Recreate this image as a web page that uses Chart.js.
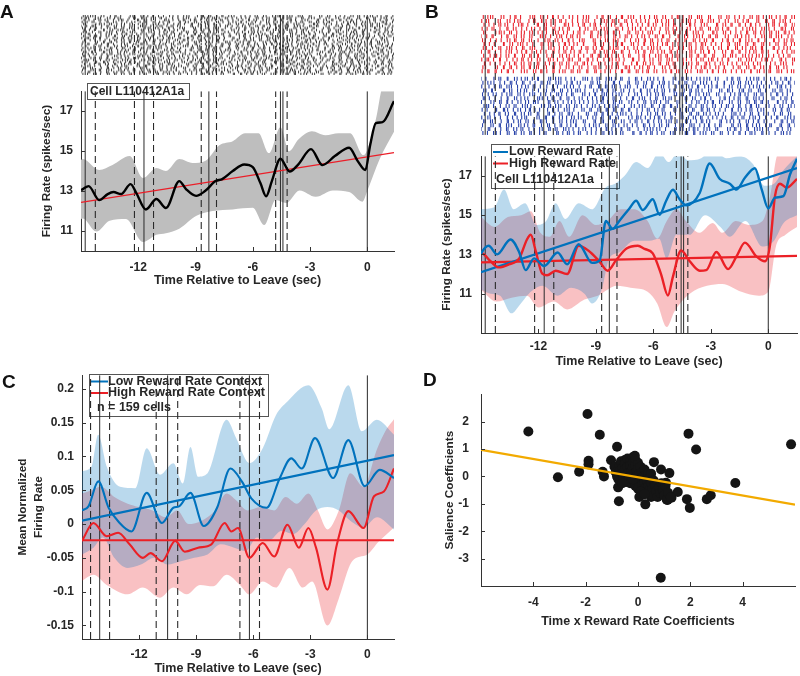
<!DOCTYPE html>
<html>
<head>
<meta charset="utf-8">
<title>Firing rate and reward rate figure</title>
<script src="https://cdn.jsdelivr.net/npm/chart.js@4.4.1/dist/chart.umd.min.js"></script>
<style>
  html, body { margin: 0; background: #fff; }
  #fig { position: relative; width: 800px; height: 676px; overflow: hidden; }
  #fig canvas { position: absolute; }
  .panel { position: absolute; font: bold 19px "Liberation Sans", Arial, sans-serif; line-height: 1; color: #111; }
</style>
</head>
<body>
<div id="fig">
  <canvas id="rasterA" width="400" height="70" style="left:0;top:10px"></canvas>
  <canvas id="plotA" width="400" height="224" style="left:0;top:76px"></canvas>
  <canvas id="rasterB" width="400" height="130" style="left:400px;top:10px"></canvas>
  <canvas id="plotB" width="400" height="232" style="left:400px;top:140px"></canvas>
  <canvas id="plotC" width="400" height="316" style="left:0;top:360px"></canvas>
  <canvas id="plotD" width="400" height="265" style="left:400px;top:375px"></canvas>
  <div class="panel" style="left:0;top:2px">A</div>
  <div class="panel" style="left:425px;top:2px">B</div>
  <div class="panel" style="left:2px;top:372px">C</div>
  <div class="panel" style="left:423px;top:370px">D</div>
</div>
<script>
// ---- data ----
const timeTicks = [-12, -9, -6, -3, 0];

// task events for the single cell (A, B) and for the population (C)
const cellSolid = [-14.78, -11.7, -8.3, -4.55, -4.42, 0];
const cellDashed = [-14.25, -12.2, -11.2, -8.7, -7.9, -4.8, -4.2];
const popSolid = [-14.07, -10.5, -6.2, 0];
const popDashed = [-14.55, -13.55, -11.1, -9.97, -6.7, -5.67];

// raster: one string per trial, one char per 0.2 s bin from -15 s ('.' = no spike, digit = offset in bin)
const highTrials = [
  '381704925.64 184703926517 240819356.04 927183560528 691407329615 804738.15390 624718305627 4913',
  '52.839160473 706152938.41 385.17209646 1930475826.7 4682.0135971 27590.361848 053917264.85 2076',
  '9147.0358263 61829.047351 738201946.58 04.691735282 8350.2647193 15968.027436 74.013852961 5830',
  '2603918.4571 4385.7201693 0719246.3855 36.815904273 9527.1036848 602491.73851 28735.60194 48172',
  '7.4512638094 8291.3607452 56.093817246 1482.5603973 60351.948271 93.726108543 41069.357282 6095',
  '1938.2640578 0467.1925836 5829.7034161 93.074816255 2716.0943858 04.539281667 3815.9024736 1284',
  '64.07285139 3951.0842676 82.461537098 5076.2139843 1.649027358 36.152809476 94270.81365 39571',
  '8025.9163740 16.837405922 4390.7152689 92.513806347 6048.1725930 57.293840616 0839.5172648 2605',
  '415.03968272 73.086152491 2961.5047383 08.374926155 94.216083573 81.57039264 2806.913745 04829',
  '0592.4817363 84.610397256 130.82756494 5946.1302837 06.81539742 9371.208456 4.185936207 76193',
  '72.9831504 6485.0129637 7.350192846 2804.6173595 19.7460382 8514.92073 6.03817254 9462710 38',
  '3694.08152 7.03158294 6582.9041736 41.5027869 0387.16254 9.20461837 3571.0896 42857.193 0614',
  '8.1472305 9603.8172 45.93016827 7149.3260 58.24913076 3605.81297 4.92637081 58023.6714 92851',
  '240.51968 73.6829014 5713.04862 9.7415028 368.02194573 6.9150382 7416.20859 93.5082716 40371',
  '6851.3079 24.961735 8036.21497 3.58140692 7419.0362 85.2601739 4083.51627 9.17350284 6692741'
];
const lowTrials = [
  '57.301948263 820461.93572 4619.0283755 73.928146035 1850.7392641 6294.0381572 0817.3954268 31946',
  '0938.2716450 69.418250731 2785.0369144 8061.3975220 5.934178206 4172.8560393 96305.81274 72418',
  '4.6281730954 3719.5048266 90.356218473 2648.0713595 83.162940578 0571.9362814 42893.60715 86320',
  '7150.3926848 48.602917356 3094.7182561 96.250381474 7405.8216933 1.826549073 68041.29357 20591',
  '2846.1903575 0.739281645 8563.0427190 41.879302566 0392.6158471 79.043825616 5128.370964 38472',
  '9.3570428164 5182.6047393 06.729481358 7315.0286947 48.160937252 2647.9501383 9035.172846 15208',
  '36.819205747 7024.5813962 4.5160739282 9381.0472656 1.724856093 5038.2916477 2763.849150 69314',
  '8503.1647296 21.978364052 6249.3015873 07.536418299 3816.0725944 96.250371681 4097.26385 52781',
  '1.6493802757 5830.7142698 79.024561383 4096.2837512 62.519047386 8174.3062959 3605.91427 04826',
  '6027.3918455 3.941572806 1586.0349247 27.381640593 9540.2716388 04.892356171 7312.50894 68153',
  '49.205861733 8617.0394258 2.735918406 5308.4127696 71.846290535 3095.1678242 8461.27035 97240',
  '7380.9251644 06.152739488 9413.6580273 85.029174636 2670.4935118 5.738219604 0948.73615 36092',
  '2.1593840677 4726.3801955 38.460927151 6952.1738044 04.371659288 7819.3052466 5238.96014 81537',
  '5864.0271393 9.283517406 7031.9462858 14.607385929 8245.0617375 36.190847263 1679.45038 25814',
  '03.472918566 2591.8364037 6.840251973 3719.6028545 90.528143766 4163.7925088 7504.12893 49267'
];

// A: all trials
const aMeanT = [-15, -14.9, -14.6, -14.05, -13.6, -13.3, -12.9, -12.4, -12.1, -11.6, -11.05, -10.55, -9.85, -9.5, -8.97, -8.5, -7.95, -7.6, -7.05, -6.45, -6.0, -5.6, -5.3, -5.0, -4.55, -4.07, -3.6, -2.95, -2.35, -1.7, -0.95, -0.5, -0.1, 0.15, 0.45, 0.8, 1.4];
const aMeanV = [13.05, 13.1, 13.25, 12.55, 12.85, 12.95, 12.85, 13.35, 12.9, 12.08, 12.6, 12.15, 13.5, 13.1, 12.76, 13.0, 13.5, 13.6, 14.0, 14.33, 14.2, 13.4, 12.74, 13.5, 14.62, 13.98, 14.35, 15.1, 14.3, 14.75, 15.17, 14.5, 14.05, 15.3, 16.4, 16.45, 17.5];
const aUpT = [-15, -14.9, -14.05, -13.35, -12.45, -11.75, -11.05, -10.55, -9.85, -9.15, -8.5, -7.75, -7.05, -6.4, -5.7, -5.15, -4.55, -4.1, -3.6, -2.9, -2.2, -1.5, -0.9, -0.2, 0.45, 0.85, 1.4];
const aUpV = [14.55, 14.6, 14.05, 14.3, 14.75, 13.65, 14.15, 14.0, 14.6, 14.4, 14.5, 15.3, 15.5, 15.9, 15.9, 14.9, 16.2, 15.0, 15.6, 16.0, 15.8, 15.9, 15.9, 14.8, 16.6, 18.3, 18.3];
const aLoT = [-15, -14.9, -14.2, -13.5, -12.65, -11.75, -11.05, -10.55, -9.85, -8.95, -8.1, -7.05, -6.0, -5.4, -4.8, -4.25, -3.55, -2.7, -1.8, -0.95, -0.25, 0.0, 0.65, 1.4];
const aLoV = [11.6, 11.63, 10.97, 11.52, 11.6, 10.45, 10.81, 10.89, 11.12, 11.76, 12.0, 12.08, 12.16, 11.3, 12.55, 12.4, 13.03, 12.71, 13.03, 12.95, 12.47, 13.0, 14.6, 15.97];
const aFitT = [-15, 1.4];
const aFitV = [12.43, 14.93];

// B: low vs high reward rate trials
const bLowT = [-15, -14.95, -14.6, -14.16, -13.46, -13.0, -12.67, -12.23, -11.7, -11.0, -10.5, -9.9, -9.2, -8.8, -8.48, -8.13, -7.78, -7.25, -6.9, -6.55, -6.03, -5.68, -5.33, -4.98, -4.63, -4.28, -3.58, -3.06, -2.53, -2.01, -1.66, -1.22, -0.7, -0.34, 0.0, 0.35, 0.79, 1.14, 1.5];
const bLowV = [13.0, 13.12, 13.44, 13.0, 13.76, 13.1, 12.2, 12.8, 12.41, 13.1, 12.5, 13.52, 12.57, 12.7, 14.7, 14.3, 14.7, 15.34, 15.73, 15.26, 15.81, 15.02, 15.73, 16.29, 15.81, 15.5, 16.13, 17.63, 16.84, 16.6, 16.3, 16.9, 17.39, 16.3, 15.34, 15.89, 15.97, 17.08, 17.87];
const bHighT = [-15, -14.95, -14.5, -14.07, -13.55, -13.0, -12.6, -12.4, -12.15, -11.8, -11.55, -11.1, -10.5, -9.9, -9.4, -8.82, -8.38, -7.95, -7.4, -6.81, -6.46, -6.03, -5.6, -5.24, -4.98, -4.55, -4.1, -3.58, -3.24, -2.71, -2.1, -1.66, -1.22, -0.62, -0.17, 0.08, 0.35, 0.61, 0.96, 1.5];
const bHighV = [13.0, 13.05, 12.65, 12.34, 12.49, 12.8, 13.76, 14.0, 13.2, 12.02, 11.94, 12.17, 12.0, 13.44, 13.2, 12.65, 12.17, 12.7, 13.3, 13.44, 13.28, 13.05, 12.0, 10.91, 11.86, 13.2, 12.65, 12.17, 12.2, 13.12, 12.25, 12.9, 13.6, 12.9, 12.65, 13.4, 15.97, 16.6, 16.4, 16.84];
const bLowUpT = [-15, -14.3, -13.8, -13.3, -12.7, -12.1, -11.6, -11.1, -10.6, -9.9, -9.2, -8.5, -8.0, -7.5, -6.9, -6.3, -5.7, -5.2, -4.7, -4.2, -3.5, -2.9, -2.2, -1.5, -0.8, -0.2, 0.3, 0.8, 1.5];
const bLowUpV = [15.3, 15.4, 16.3, 15.3, 15.6, 14.5, 14.7, 15.6, 14.8, 15.6, 15.3, 16.4, 16.6, 17.0, 17.7, 17.4, 18.2, 17.7, 18.2, 17.8, 17.9, 18.4, 17.9, 18.0, 17.6, 16.5, 16.6, 17.3, 18.0];
const bLowLoT = [-15, -14.5, -14.0, -13.4, -13.0, -12.5, -11.8, -11.0, -10.3, -9.6, -9.2, -8.7, -8.3, -7.8, -7.0, -6.2, -5.7, -5.3, -4.8, -4.1, -3.3, -2.5, -2.0, -1.2, -0.3, 0.3, 0.8, 1.5];
const bLowLoV = [11.2, 11.0, 10.9, 10.0, 10.4, 11.0, 11.4, 10.9, 11.3, 11.0, 10.5, 11.2, 12.8, 13.1, 13.7, 13.7, 13.8, 12.8, 14.0, 14.0, 15.0, 14.4, 13.9, 14.7, 13.4, 13.7, 14.6, 15.0];
const bHighUpT = [-15, -14.3, -13.6, -12.9, -12.4, -11.9, -11.4, -10.9, -10.4, -9.7, -9.0, -8.4, -7.7, -7.0, -6.3, -5.8, -5.3, -4.8, -4.3, -3.6, -2.9, -2.4, -1.7, -1.0, -0.3, 0.1, 0.5, 1.0, 1.5];
const bHighUpV = [14.9, 14.4, 14.9, 15.0, 15.2, 14.1, 13.9, 14.7, 13.9, 15.0, 14.5, 14.7, 15.3, 15.3, 14.7, 13.8, 14.7, 15.3, 14.7, 14.1, 14.6, 14.1, 14.7, 14.5, 14.7, 16.0, 18.1, 18.2, 18.1];
const bHighLoT = [-15, -14.2, -13.4, -12.6, -12.0, -11.2, -10.5, -9.6, -8.9, -7.9, -7.2, -6.3, -5.8, -5.3, -4.9, -4.1, -3.2, -2.4, -1.4, -0.5, 0.0, 0.4, 0.9, 1.5];
const bHighLoV = [11.2, 10.6, 10.8, 10.9, 10.3, 10.6, 10.2, 10.7, 10.9, 11.4, 11.3, 11.1, 10.5, 9.3, 10.1, 11.0, 11.4, 11.5, 11.1, 10.9, 11.1, 13.4, 14.0, 14.4];
const bFitT = [-15, 1.5];
const bLowFitV = [12.1, 17.4];
const bHighFitV = [12.6, 12.93];

// C: population, mean normalized firing rate
const cLowT = [-15, -14.66, -14.14, -13.6, -13.1, -12.4, -11.6, -10.8, -10.2, -9.9, -9.3, -8.6, -7.9, -7.2, -6.6, -6.1, -5.3, -4.6, -4.0, -3.45, -2.75, -1.8, -1.0, -0.14, 0.65, 1.4];
const cLowV = [0.02, 0.026, 0.063, 0.024, 0.004, -0.011, 0.046, 0.0015, 0.024, 0.026, 0.046, -0.003, 0.024, 0.082, 0.063, 0.038, 0.024, 0.068, 0.097, 0.082, 0.127, 0.068, 0.124, 0.056, 0.08, 0.068];
const cHighT = [-15, -14.4, -13.7, -13.1, -12.5, -11.8, -11.4, -10.8, -10.1, -9.6, -8.9, -8.2, -7.5, -7.15, -6.8, -6.2, -5.5, -4.9, -4.2, -3.6, -3.1, -2.7, -2.1, -1.6, -1.0, -0.2, 0.35, 0.87, 1.4];
const cHighV = [-0.025, 0.0015, -0.018, -0.013, -0.03, -0.05, -0.043, -0.055, -0.025, -0.041, -0.035, -0.03, 0.0015, -0.011, -0.006, -0.05, -0.028, -0.048, -0.001, -0.035, -0.006, -0.035, -0.097, -0.03, 0.019, -0.006, 0.041, 0.048, 0.082];
const cLowUpT = [-15, -14.5, -14.15, -13.7, -13.0, -12.2, -11.6, -10.9, -10.2, -9.7, -9.3, -8.9, -8.4, -7.4, -6.9, -6.2, -5.5, -4.8, -4.2, -3.1, -2.4, -2.0, -1.0, -0.3, 0.5, 1.4];
const cLowUpV = [0.078, 0.085, 0.132, 0.085, 0.055, 0.053, 0.112, 0.073, 0.09, 0.06, 0.114, 0.07, 0.075, 0.154, 0.127, 0.09, 0.112, 0.161, 0.181, 0.205, 0.171, 0.14, 0.205, 0.137, 0.154, 0.132];
const cLowLoT = [-15, -14.4, -13.9, -13.3, -12.6, -11.9, -11.2, -10.5, -9.8, -9.1, -8.4, -7.7, -7.0, -6.4, -5.8, -5.2, -4.5, -3.9, -3.3, -2.7, -2.1, -1.5, -0.9, -0.2, 0.5, 1.4];
const cLowLoV = [-0.045, -0.035, -0.02, -0.05, -0.065, -0.06, -0.05, -0.06, -0.055, -0.05, -0.045, -0.03, -0.035, -0.04, -0.02, -0.025, -0.01, -0.015, 0.0, 0.02, 0.025, 0.02, 0.005, -0.005, 0.01, -0.008];
const cHighUpT = [-15, -14.5, -14.0, -13.3, -12.6, -12.0, -11.3, -10.6, -10.0, -9.4, -8.7, -8.0, -7.4, -6.9, -6.3, -5.6, -4.9, -4.3, -3.7, -3.1, -2.6, -2.1, -1.5, -0.9, -0.2, 0.5, 1.0, 1.4];
const cHighUpV = [0.045, 0.05, 0.055, 0.04, 0.03, 0.025, 0.02, 0.01, 0.02, 0.0, 0.005, 0.02, 0.045, 0.035, 0.02, 0.025, 0.02, 0.04, 0.03, 0.045, 0.02, -0.008, 0.02, 0.075, 0.055, 0.11, 0.14, 0.155];
const cHighLoT = [-15, -14.4, -13.7, -12.6, -11.8, -10.9, -10.2, -9.5, -8.8, -8.1, -7.4, -6.7, -6.2, -5.5, -4.8, -4.1, -3.4, -2.9, -2.1, -1.5, -0.8, 0.0, 0.6, 1.4];
const cHighLoV = [-0.084, -0.075, -0.09, -0.104, -0.094, -0.109, -0.094, -0.104, -0.09, -0.092, -0.075, -0.09, -0.104, -0.085, -0.094, -0.065, -0.094, -0.085, -0.15, -0.11, -0.055, -0.045, -0.026, -0.005];
const cFitT = [-15, 1.4];
const cLowFitV = [0.005, 0.102];
const cHighFitV = [-0.024, -0.024];

// D: coefficients per cell
const dX = [-4.19, -1.93, -1.46, -0.8, 1.93, 2.22, 5.85, -3.06, -2.25, -1.89, -1.89, -1.35, -1.3, -1.03, 0.61, 0.88, 1.2, 3.72, -0.73, 0.28, 1.87, 1.98, 2.63, 2.78, 1.52, 0.87, 1.28, 1.07, -0.76, 0.5, 1.13,
  -0.9, -0.85, -0.8, -0.75, -0.7, -0.7, -0.65, -0.6, -0.6, -0.55, -0.5, -0.5, -0.5, -0.45, -0.45, -0.4, -0.4, -0.35, -0.35, -0.3,
  -0.3, -0.3, -0.25, -0.25, -0.2, -0.2, -0.2, -0.15, -0.15, -0.1, -0.1, -0.1, -0.05, -0.05, 0, 0, 0, 0, 0.05, -0.12,
  0.1, 0.1, 0.15, 0.15, 0.2, 0.2, 0.25, 0.25, 0.3, 0.3, 0.35, 0.35, 0.4, 0.4, 0.45, 0.45, 0.5, 0.5, 0.55, 0.55,
  0.6, 0.65, 0.7, 0.75, 0.8, 0.85, 0.9, 0.95, 1.0, 1.05, 1.1, 1.15, 1.25, -0.2, -0.6, 0.1, 0.05, 0.25];
const dY = [1.64, 2.28, 1.52, 1.08, 1.56, 0.98, 1.17, -0.03, 0.17, 0.57, 0.44, 0.17, 0.0, 0.59, 0.52, 0.25, 0.12, -0.24, -0.91, -1.02, -0.83, -1.15, -0.83, -0.69, -0.57, -3.7, -0.78, -0.23, -0.4, -0.75, -0.86,
  0.35, 0.15, 0.0, -0.1, 0.4, 0.2, 0.55, 0.3, 0.1, -0.05, 0.6, 0.45, 0.25, 0.05, -0.2, 0.65, 0.35, 0.15, -0.05, 0.55,
  0.4, -0.25, 0.2, 0.0, 0.7, 0.5, 0.3, -0.15, 0.1, 0.6, 0.4, -0.35, 0.2, 0.0, 0.5, 0.3, -0.2, -0.45, 0.1, 0.75,
  -0.1, 0.35, -0.3, 0.15, -0.5, 0.0, -0.2, 0.25, -0.4, 0.05, -0.6, -0.15, 0.1, -0.35, -0.5, -0.05, -0.25, 0.1, -0.45, -0.7,
  -0.15, -0.35, -0.55, -0.75, -0.4, -0.6, -0.25, -0.5, -0.7, -0.35, -0.85, -0.6, -0.75, -0.1, -0.25, -0.55, -0.75, -0.65];
const dFitX = [-6, 6];
const dFitY = [0.97, -1.03];

// ---- styling ----
const FONT = '"Liberation Sans", Arial, Helvetica, sans-serif';
Chart.defaults.font.family = FONT;
Chart.defaults.font.weight = 'bold';
Chart.defaults.font.size = 12;
Chart.defaults.color = '#262626';

const BLUE = 'rgb(0,114,189)';
const RED = 'rgb(235,32,38)';
const BLUE_FILL = 'rgba(0,114,189,0.27)';
const RED_FILL = 'rgba(235,32,38,0.28)';
const EV = '#2a2a2a';
const tStart = -15, binW = 0.2;

const pts = (xs, ys) => xs.map((x, i) => ({ x, y: ys[i] }));

function spikes(rows, yBase, xMax) {
  const out = [];
  rows.forEach((row, r) => {
    const s = row.replace(/ /g, '');
    for (let i = 0; i < s.length; i++) {
      if (s[i] === '.') continue;
      const t = tStart + (i + Number(s[i]) / 10) * binW;
      if (t <= xMax) out.push({ x: t, y: yBase + r + 0.5 });
    }
  });
  return out;
}

function rasterSet(data, color, radius, width) {
  return { data, showLine: false, pointStyle: 'line', pointRotation: 90, pointRadius: radius,
    pointBorderColor: color, pointBackgroundColor: color, pointBorderWidth: width, order: 10 };
}

function curve(ts, vs, color, width, order) {
  return { data: pts(ts, vs), borderColor: color, borderWidth: width, pointRadius: 0, fill: false,
    cubicInterpolationMode: 'monotone', order };
}

function straight(ts, vs, color, width, order) {
  return { data: pts(ts, vs), borderColor: color, borderWidth: width, pointRadius: 0, fill: false, order };
}

function band(loT, loV, upT, upV, color, order) {
  return [
    { data: pts(loT, loV), borderColor: 'transparent', borderWidth: 0, pointRadius: 0, fill: false,
      cubicInterpolationMode: 'monotone', order },
    { data: pts(upT, upV), borderColor: 'transparent', borderWidth: 0, pointRadius: 0,
      cubicInterpolationMode: 'monotone', order, fill: { target: '-1', above: color, below: color } }
  ];
}

function vlines(times, y0, y1, dashed, order) {
  return times.map(t => ({ data: [{ x: t, y: y0 }, { x: t, y: y1 }], borderColor: EV,
    borderWidth: dashed ? 1.1 : 1, borderDash: dashed ? [7, 4] : [], pointRadius: 0, fill: false, order }));
}

function axis(o) {
  return {
    type: 'linear', min: o.min, max: o.max, display: o.display !== false,
    grid: { display: false, drawTicks: false, tickLength: 0 },
    border: { display: true, color: '#333', width: 1 },
    ticks: { padding: o.pad, autoSkip: false, maxRotation: 0, color: '#262626', font: { size: 12, weight: 'bold' },
      callback: v => String(+Number(v).toFixed(2)) },
    title: { display: !!o.title, text: o.title, color: '#262626', padding: o.titlePad,
      font: { size: o.titleSize || 12, weight: 'bold', lineHeight: o.titleLH || 1.2 } },
    afterBuildTicks: s => { if (o.ticks) s.ticks = o.ticks.map(v => ({ value: v })); },
    afterFit: s => { if (o.width != null) s.width = o.width; if (o.height != null) s.height = o.height; }
  };
}

const innerTicks = {
  id: 'innerTicks',
  afterDraw(chart) {
    const { ctx, chartArea: a, scales: { x, y } } = chart;
    ctx.save();
    ctx.strokeStyle = '#333';
    ctx.lineWidth = 1;
    ctx.beginPath();
    x.ticks.forEach(t => { const p = Math.round(x.getPixelForValue(t.value)) + 0.5; ctx.moveTo(p, a.bottom); ctx.lineTo(p, a.bottom - 4); });
    y.ticks.forEach(t => { const p = Math.round(y.getPixelForValue(t.value)) + 0.5; ctx.moveTo(a.left, p); ctx.lineTo(a.left + 4, p); });
    ctx.stroke();
    ctx.restore();
  }
};

// legend box drawn right after the given dataset (so event lines go over it)
const boxLegend = {
  id: 'boxLegend',
  afterDatasetDraw(chart, args, o) {
    if (!o || !o.items || o.afterIndex !== args.index) return;
    const ctx = chart.ctx;
    ctx.save();
    ctx.fillStyle = '#fff';
    ctx.fillRect(o.x, o.y, o.w, o.h);
    ctx.strokeStyle = '#555';
    ctx.lineWidth = 1;
    ctx.strokeRect(o.x + 0.5, o.y + 0.5, o.w, o.h);
    ctx.font = 'bold ' + o.size + 'px ' + FONT;
    ctx.textBaseline = 'middle';
    o.items.forEach(it => {
      if (it.color) {
        ctx.strokeStyle = it.color;
        ctx.lineWidth = 2;
        ctx.beginPath();
        ctx.moveTo(o.x + 2, it.y);
        ctx.lineTo(o.x + o.swatch, it.y);
        ctx.stroke();
      }
      ctx.fillStyle = '#262626';
      ctx.fillText(it.text, it.x, it.y);
    });
    ctx.restore();
  }
};

function makeChart(id, datasets, o) {
  return new Chart(document.getElementById(id), {
    type: 'line',
    data: { datasets },
    options: {
      responsive: false, animation: false, events: [],
      layout: { padding: o.padding },
      plugins: { legend: { display: false }, tooltip: { enabled: false }, boxLegend: o.legend || {} },
      scales: { x: axis(o.x), y: axis(o.y) }
    },
    plugins: o.raster ? [] : [innerTicks, boxLegend]
  });
}

// ---- A raster ----
const allTrials = lowTrials.concat(highTrials);
makeChart('rasterA', [
  rasterSet(spikes(allTrials, 0, 1.4), '#404040', 1.4, 1),
  ...vlines(cellSolid, 0, 30, false, 1),
  ...vlines(cellDashed, 0, 30, true, 1)
], {
  raster: true,
  padding: { left: 81, right: 6, top: 3, bottom: 3 },
  x: { min: -15, max: 1.4, display: false },
  y: { min: 0, max: 30, display: false }
});

// ---- A plot ----
const aSets = [
  ...band(aLoT, aLoV, aUpT, aUpV, '#bebebe', 40),
  ...vlines(cellSolid, 10, 18, false, 20),
  ...vlines(cellDashed, 10, 18, true, 20),
  straight(aFitT, aFitV, 'rgb(235,30,40)', 1.3, 6),
  curve(aMeanT, aMeanV, '#000', 2.4, 5)
];
makeChart('plotA', aSets, {
  padding: { top: 6, right: 6, left: 0, bottom: 0 },
  legend: { afterIndex: 1, x: 87, y: 7, w: 102, h: 16, size: 12, swatch: 0,
    items: [{ text: 'Cell L110412A1a', x: 90, y: 15.5 }] },
  x: { min: -15, max: 1.4, ticks: timeTicks, pad: 9, height: 49, title: 'Time Relative to Leave (sec)',
    titleSize: 12.5, titlePad: { top: 0, bottom: 11.5 } },
  y: { min: 10, max: 18, ticks: [11, 13, 15, 17], pad: 8, width: 81, title: 'Firing Rate (spikes/sec)',
    titleSize: 11.8, titlePad: { top: 40, bottom: 0 } }
});

// ---- B raster ----
makeChart('rasterB', [
  rasterSet(spikes(highTrials, 16, 1.5), 'rgb(232,35,45)', 2, 1.1),
  rasterSet(spikes(lowTrials, 0, 1.5), 'rgb(40,66,168)', 2, 1.1),
  ...vlines(cellSolid, 0, 31, false, 1),
  ...vlines(cellDashed, 0, 31, true, 1)
], {
  raster: true,
  padding: { left: 81, right: 3, top: 3, bottom: 3 },
  x: { min: -15, max: 1.5, display: false },
  y: { min: 0, max: 31, display: false }
});

// ---- B plot ----
const bSets = [
  ...band(bLowLoT, bLowLoV, bLowUpT, bLowUpV, BLUE_FILL, 40),
  ...band(bHighLoT, bHighLoV, bHighUpT, bHighUpV, RED_FILL, 40),
  ...vlines(cellSolid, 9, 18, false, 20),
  ...vlines(cellDashed, 9, 18, true, 20),
  straight(bFitT, bHighFitV, RED, 2.2, 7),
  straight(bFitT, bLowFitV, BLUE, 2.2, 6),
  curve(bHighT, bHighV, RED, 2.4, 5),
  curve(bLowT, bLowV, BLUE, 2.4, 4)
];
makeChart('plotB', bSets, {
  padding: { top: 5, right: 3, left: 0, bottom: 0 },
  legend: { afterIndex: 3, x: 91, y: 4, w: 128, h: 44, size: 12.5, swatch: 17,
    items: [
      { text: 'Low Reward Rate', color: BLUE, x: 109, y: 12 },
      { text: 'High Reward Rate', color: RED, x: 109, y: 23.5 },
      { text: 'Cell L110412A1a', x: 96, y: 39.5 }
    ] },
  x: { min: -15, max: 1.5, ticks: timeTicks, pad: 6.5, height: 39, title: 'Time Relative to Leave (sec)',
    titleSize: 12.5, titlePad: { top: 0, bottom: 2.5 } },
  y: { min: 9, max: 18, ticks: [11, 13, 15, 17], pad: 9, width: 81, title: 'Firing Rate (spikes/sec)',
    titleSize: 11.8, titlePad: { top: 40, bottom: 0 } }
});

// ---- C plot ----
const cSets = [
  ...band(cLowLoT, cLowLoV, cLowUpT, cLowUpV, BLUE_FILL, 40),
  ...band(cHighLoT, cHighLoV, cHighUpT, cHighUpV, RED_FILL, 40),
  ...vlines(popSolid, -0.17, 0.22, false, 20),
  ...vlines(popDashed, -0.17, 0.22, true, 20),
  straight(cFitT, cHighFitV, RED, 2.2, 7),
  straight(cFitT, cLowFitV, BLUE, 2.2, 6),
  curve(cHighT, cHighV, RED, 2.1, 5),
  curve(cLowT, cLowV, BLUE, 2.1, 4)
];
makeChart('plotC', cSets, {
  padding: { top: 15, right: 6, left: 0, bottom: 0 },
  legend: { afterIndex: 3, x: 89, y: 14, w: 179, h: 42, size: 12.5, swatch: 19,
    items: [
      { text: 'Low Reward Rate Context', color: BLUE, x: 108, y: 21.5 },
      { text: 'High Reward Rate Context', color: RED, x: 108, y: 33 },
      { text: 'n = 159 cells', x: 97, y: 47.5 }
    ] },
  x: { min: -15, max: 1.4, ticks: timeTicks, pad: 8, height: 37, title: 'Time Relative to Leave (sec)',
    titleSize: 12.5, titlePad: { top: 0, bottom: 0 } },
  y: { min: -0.17, max: 0.22, ticks: [-0.15, -0.1, -0.05, 0, 0.05, 0.1, 0.15, 0.2], pad: 8, width: 82,
    title: ['Mean Normalized', 'Firing Rate'], titleSize: 11.8, titleLH: 1.33, titlePad: { top: 15, bottom: 0 } }
});

// ---- D plot ----
makeChart('plotD', [
  straight(dFitX, dFitY, 'rgb(242,170,0)', 2.2, 1),
  { data: pts(dX, dY), showLine: false, pointRadius: 5, pointBackgroundColor: '#151515',
    pointBorderColor: '#151515', pointBorderWidth: 0, clip: 8, order: 2 }
], {
  padding: { top: 8, right: 3, left: 0, bottom: 0 },
  x: { min: -6, max: 6, ticks: [-4, -2, 0, 2, 4], pad: 9.5, height: 54, title: 'Time x Reward Rate Coefficients',
    titleSize: 12.5, titlePad: { top: 0, bottom: 10.8 } },
  y: { min: -4, max: 3, ticks: [-3, -2, -1, 0, 1, 2], pad: 12, width: 81, title: 'Salience Coefficients',
    titleSize: 11.8, titlePad: { top: 43, bottom: 0 } }
});
</script>
</body>
</html>
